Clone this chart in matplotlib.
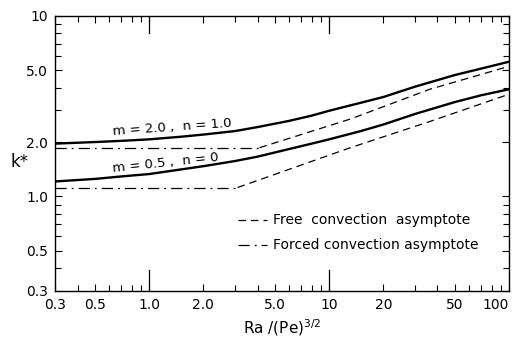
import matplotlib
matplotlib.use('Agg')
import matplotlib.pyplot as plt
from matplotlib.ticker import FixedLocator, NullFormatter, LogLocator

# Значения
x_exact = [0.3, 0.5, 0.7, 1.0, 1.5, 2.0, 3.0, 4.0, 6.0, 8.0, 10, 15, 20, 30, 50, 70, 100]
k_m20_n10 = [1.96, 2.0, 2.03, 2.07, 2.14, 2.2, 2.3, 2.42, 2.62, 2.8, 2.98,
             3.3, 3.55, 4.05, 4.7, 5.1, 5.57]
k_m05_n0 = [1.21, 1.25, 1.29, 1.33, 1.41, 1.47, 1.57, 1.66, 1.83, 1.96, 2.07,
            2.3, 2.5, 2.86, 3.33, 3.63, 3.92]

# Асимптоты вынужденной конвекции (горизонтальные)
x_forced_upper = [0.3, 4.1]
k_forced_upper = [1.86, 1.86]
x_forced_lower = [0.3, 3.1]
k_forced_lower = [1.12, 1.12]

# Асимптоты свободной конвекции
x_free_upper = [4.1, 13.1, 36.3, 100.0]
k_free_upper = [1.86, 2.68, 3.92, 5.25]
x_free_lower = [3.1, 13.1, 36.3, 100.0]
k_free_lower = [1.12, 1.86, 2.6, 3.68]

x_ticks = [0.3, 0.5, 1.0, 2.0, 5.0, 10, 20, 50, 100]
x_tick_labels = ['0.3', '0.5', '1.0', '2.0', '5.0', '10', '20', '50', '100']
y_ticks = [0.3, 0.5, 1.0, 2.0, 5.0, 10]
y_tick_labels = ['0.3', '0.5', '1.0', '2.0', '5.0', '10']

plt.rcParams['font.family'] = ['DejaVu Sans']

fig = plt.figure(figsize=(5.2, 3.43), dpi=100)
ax = fig.add_axes([0.106, 0.152, 0.873, 0.802])

dash = (0, (6, 4))
dashdot = (0, (9, 4, 1.5, 4))

ax.plot(x_exact, k_m20_n10, color='black', lw=1.7)
ax.plot(x_exact, k_m05_n0, color='black', lw=1.7)
ax.plot(x_forced_upper, k_forced_upper, color='black', lw=0.9, linestyle=dashdot)
ax.plot(x_forced_lower, k_forced_lower, color='black', lw=0.9, linestyle=dashdot)
ax.plot(x_free_upper, k_free_upper, color='black', lw=0.9, linestyle=dash)
ax.plot(x_free_lower, k_free_lower, color='black', lw=0.9, linestyle=dash)

ax.set_xscale('log')
ax.set_yscale('log')
ax.set_xlim(0.3, 100)
ax.set_ylim(0.3, 10)

ax.xaxis.set_major_locator(FixedLocator(x_ticks))
ax.set_xticklabels(x_tick_labels)
ax.yaxis.set_major_locator(FixedLocator(y_ticks))
ax.set_yticklabels(y_tick_labels)
ax.xaxis.set_minor_locator(LogLocator(base=10, subs=[1, 2, 3, 4, 5, 6, 7, 8, 9]))
ax.yaxis.set_minor_locator(LogLocator(base=10, subs=[1, 2, 3, 4, 5, 6, 7, 8, 9]))
ax.xaxis.set_minor_formatter(NullFormatter())
ax.yaxis.set_minor_formatter(NullFormatter())

ax.tick_params(which='both', direction='in', top=True, right=True, labelsize=10, pad=5)
ax.tick_params(which='major', length=5, width=0.8)
ax.tick_params(which='minor', length=4, width=0.8)
# правая метка "100" немного левее, чтобы не обрезалась
ax.get_xticklabels()[-1].set_horizontalalignment('right')
ax.get_xticklabels()[-1].set_x(100)

# Длинные риски на 1 и 10
for xv in [1.0, 10.0]:
    ax.plot([xv, xv], [0.3, 0.39], color='black', lw=0.9)
    ax.plot([xv, xv], [10, 8.0], color='black', lw=0.9)

for sp in ax.spines.values():
    sp.set_linewidth(1.0)

ax.text(0.62, 2.2, 'm = 2.0 ,  n = 1.0', fontsize=9.5, rotation=4)
ax.text(0.62, 1.37, 'm = 0.5 ,  n = 0', fontsize=9.5, rotation=6)

# Легенда
ax.plot([3.1, 4.5], [0.74, 0.74], color='black', lw=0.9, linestyle=dash)
ax.plot([3.1, 4.5], [0.54, 0.54], color='black', lw=0.9, linestyle=dashdot)
ax.text(4.9, 0.74, 'Free  convection  asymptote', fontsize=10, va='center')
ax.text(4.9, 0.54, 'Forced convection asymptote', fontsize=10, va='center')

ax.set_xlabel(r'Ra /(Pe)$^{3/2}$', fontsize=11, labelpad=4)
ax.set_ylabel('k*', fontsize=12, rotation=0, va='center', ha='center')
ax.yaxis.set_label_coords(-0.078, 0.47)

fig.savefig('out.png', dpi=100)
